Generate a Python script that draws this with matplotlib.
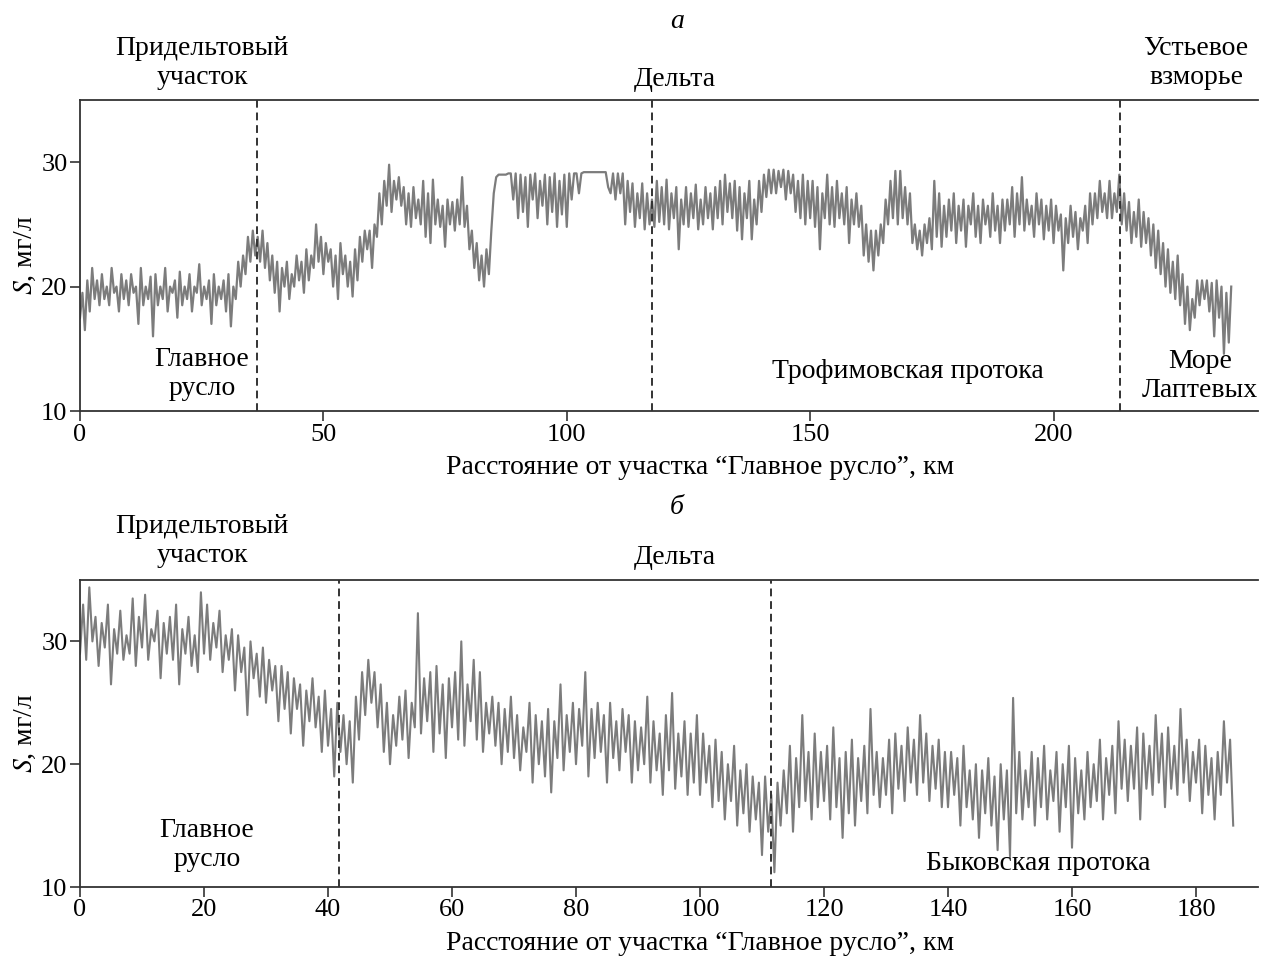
import numpy as np
import matplotlib
matplotlib.use("Agg")
import matplotlib.pyplot as plt

plt.rcParams["font.family"] = ["Liberation Serif", "DejaVu Serif"]
plt.rcParams["mathtext.fontset"] = "stix"

# S, mg/l every 0.5 km (a: Trofimovskaya branch)
step = 0.5
s_trof = [
    17.5, 19.5, 16.5, 20.5, 18, 21.5, 19, 20.5, 18.5, 21, 19, 20, 18.5, 21.5, 19.5, 20, 18, 21, 19, 20.5,
    18.5, 21, 19.5, 20, 17, 21.5, 18.5, 20, 19, 20.8, 16, 21, 18.5, 20, 19, 21.5, 18, 20, 19.5, 20.5,
    17.5, 21.2, 18.5, 20, 19, 21, 18, 20, 19.5, 21.8, 18.5, 20, 19, 20.5, 17, 21, 18.5, 20, 19, 20.5,
    18, 21, 16.8, 20, 19, 22, 20, 22.5, 21, 24, 22, 24.5, 22.5, 24, 22, 24.5, 21.5, 23.5, 20.5, 22.5,
    19.5, 22, 18, 21.5, 20, 22, 19, 21, 20, 22.5, 20.5, 22, 19.5, 23, 20.5, 22.5, 21.5, 25, 22, 24,
    21, 23.5, 22, 23, 20, 22.5, 19, 23.5, 21, 22.5, 20, 22, 19.2, 23, 20.5, 24, 22, 24.5, 23, 24.5,
    21.5, 25, 24, 27.5, 25, 28.5, 26.5, 29.8, 26, 28.5, 27, 28.8, 26.5, 28, 25, 27.5, 24.8, 28, 25.5, 27,
    25, 28.5, 24, 27.5, 23.5, 28.6, 25, 27, 24.8, 26.5, 23.2, 27, 25, 26.8, 24.5, 27, 25, 28.8, 24.8, 26.5,
    23, 24.5, 21.5, 23.5, 20.5, 22.5, 20, 23, 21, 24.5, 27.5, 28.8, 29, 29, 29, 29, 29.1, 29.1, 27, 29.1,
    25.5, 29, 26, 28.8, 24.8, 29, 27, 29.1, 25.5, 28.5, 26.5, 29, 25, 28.8, 26, 29.1, 24.8, 28.5, 25.8, 29,
    24.8, 29.1, 27, 29.1, 29.1, 27.5, 29.1, 29.2, 29.2, 29.2, 29.2, 29.2, 29.2, 29.2, 29.2, 29.2, 29.2, 28, 27.5, 29.1,
    27, 29.1, 27.5, 29.1, 25, 28.5, 26, 28.3, 24.8, 27.5, 25.5, 28.3, 24.6, 27.5, 25, 27, 24.8, 28.5, 25.2, 28,
    25, 28.6, 24.6, 27.5, 25.5, 28, 23, 27, 25, 28, 24.8, 27.5, 25.5, 28.2, 24.6, 27, 25, 28, 25.5, 27.5,
    24.6, 28, 25.5, 28.5, 25, 29, 26, 28.3, 25.5, 28.5, 24.5, 28, 23.8, 27.5, 25.5, 28.5, 23.8, 27, 25, 28.5,
    26, 29, 27.2, 29.4, 27.5, 29.4, 27.5, 29.3, 28, 29.4, 27, 29.3, 27.5, 29, 26, 28.5, 25.5, 29, 25, 28.5,
    25.5, 28.5, 24.8, 28, 23, 27.5, 25.5, 29, 25, 28, 24.8, 28.5, 25.5, 27.5, 25, 28, 23.5, 27, 25, 27.5,
    24.8, 26.5, 22.5, 25, 22, 24.5, 21.3, 24.5, 22.5, 25, 23.5, 27, 25, 28.5, 25.5, 29.3, 25, 29.3, 25.5, 28,
    25, 27.5, 23.5, 25, 23, 24.5, 22.5, 25, 23.5, 25.5, 23, 28.5, 24, 27.5, 23.2, 26.5, 24, 27, 24.5, 27.5,
    23.5, 26.5, 24.5, 27, 23.2, 26.5, 25, 27.5, 24, 26.5, 23.5, 27, 25, 26.5, 24, 27.5, 24.5, 26.5, 23.5, 27,
    24.5, 27, 25, 28, 24, 27.5, 25, 28.8, 24.5, 27, 25, 26.5, 24, 27.5, 25, 27, 23.8, 26.5, 24.5, 27,
    23.5, 26.5, 24.5, 25.8, 21.3, 25.5, 23.5, 26.5, 24, 26, 23, 25.5, 24.5, 26.5, 23.5, 27.5, 25, 27.5, 25.5, 28.5,
    26, 27.5, 25.5, 28.5, 25.5, 27.5, 26, 29, 25, 27.5, 24.5, 26.8, 23.5, 26, 24, 27, 23.2, 26, 23.5, 25.5,
    22.5, 25, 21.5, 24.5, 21, 23.5, 20, 23, 19.5, 22, 19, 22.5, 18.5, 21, 17, 20, 16.5, 19, 17.5, 20.5,
    18.5, 20.5, 19, 20.5, 18, 20.3, 16, 20.5, 17.5, 20, 14.6, 19.5, 15.5, 20,
]

# S, mg/l every 0.5 km (b: Bykovskaya branch)
s_byk = [
    29, 33, 28.5, 34.4, 30, 32, 28, 31.5, 29.5, 33, 26.5, 31, 29, 32.5, 28.5, 30.5, 29, 33.5, 28, 32,
    29.5, 33.8, 28.5, 31, 30, 32.5, 27, 31.5, 29, 32, 28.5, 33, 26.5, 31, 29, 32, 28, 30.5, 27.5, 34,
    29, 33, 28.5, 31.5, 29.5, 32.5, 27.5, 30.5, 28.5, 31, 26, 30.5, 27.5, 29.5, 24, 30, 27, 29, 25.5, 29.5,
    25, 28.5, 26, 28, 23.5, 28, 24.5, 27.5, 22.5, 27, 24.5, 26.5, 21.5, 26, 23.5, 27, 23, 25.5, 21, 26,
    21.5, 24.5, 19, 25, 21, 24, 20, 23.5, 18.5, 25.5, 22, 27.5, 24, 28.5, 25, 27.5, 23, 26.5, 21, 25,
    20, 24, 21.5, 25.5, 22, 26, 20.5, 25, 23, 32.3, 22.5, 27, 23.5, 27.5, 21, 28, 22.5, 26.5, 20.5, 27,
    23, 27.5, 22, 30, 21.5, 26.5, 23.5, 28.5, 22, 27.5, 21, 25, 22.5, 25.5, 21.5, 25, 20, 24.5, 21, 25.5,
    20.5, 24, 19.5, 23, 21, 25, 18.5, 24, 20, 23.5, 19, 24.5, 17.7, 23.5, 20.5, 26.5, 19.5, 24, 21, 25,
    20, 24.5, 21.5, 27.5, 19, 24.5, 20.5, 25, 21, 24, 18.5, 25, 20.5, 23.5, 19.5, 24.5, 21, 24, 18.5, 23.5,
    19.5, 23, 20, 25.5, 18.5, 23.5, 19.5, 22.5, 17.5, 24, 19.5, 25.8, 18, 22.5, 19, 23.5, 17.5, 22.5, 18.5, 24,
    17.5, 22.5, 18.5, 21.5, 16.5, 22, 17, 21, 15.5, 20, 17, 21.5, 15, 19.5, 16, 20, 14.5, 19, 15.5, 18.5,
    12.6, 19, 14.5, 17.5, 11.2, 18.5, 15, 19.5, 16, 21.5, 14.5, 20.5, 16.5, 24, 17, 21, 15.5, 22.5, 16.5, 21,
    17, 21.5, 15.5, 23, 16.5, 20.5, 14, 21, 16, 22, 15, 20.5, 17, 21.5, 16, 24.5, 17.5, 21, 16.5, 20.5,
    17.5, 22, 16, 22.5, 18, 21.5, 17, 23, 18.5, 22, 17.5, 24, 18.5, 22.5, 17, 21.5, 18, 22, 16.5, 21,
    16.5, 21, 17.5, 20.5, 15, 21.5, 16.5, 19.5, 15.5, 20, 14, 19.5, 16, 20.5, 15, 19, 13, 20, 15.5, 19.5,
    12.5, 25.4, 16, 21, 15.5, 19.5, 16.5, 21, 15, 20.5, 16.5, 21.5, 15.5, 19.5, 17, 21, 14.5, 20, 16.5, 21.5,
    13.2, 20.5, 16, 19.5, 15.5, 21, 16.5, 20, 17, 22, 15.5, 20.5, 17.5, 21.5, 16, 23.5, 18, 22, 17, 21.5,
    18, 23, 15.5, 22.5, 18, 21.5, 17.5, 24, 18.5, 22.5, 16.5, 23, 18, 21.5, 17.5, 24.5, 18.5, 22, 17, 21,
    18.5, 22, 16, 21.5, 17.5, 20.5, 15.5, 21, 17.5, 23.5, 18.5, 22, 15,
]

bounds_trof = [36.4, 117.5, 213.7]
bounds_byk = [41.8, 111.4]
xticks_trof = [0, 50, 100, 150, 200]
xticks_byk = [0, 20, 40, 60, 80, 100, 120, 140, 160, 180]
yticks = [10, 20, 30]

W, H = 1270, 956
FS = 20
fig = plt.figure(figsize=(W / 100, H / 100), dpi=100)


def fx(px):
    return px / W


def fy(py):
    return 1 - py / H


def panel(rect, s, bounds, xticks, xmax, lw):
    ax = fig.add_axes(rect)
    d = np.arange(len(s)) * step
    ax.plot(d, s, color="#7c7c7c", lw=lw)
    for b in bounds:
        ax.axvline(b, color="#333333", ls=(0, (4, 2.5)), lw=1.4)
    ax.set_xlim(0, xmax)
    ax.set_ylim(10, 35)
    ax.set_xticks(xticks)
    ax.set_yticks(yticks)
    ax.spines["right"].set_visible(False)
    for sp in ("top", "bottom", "left"):
        ax.spines[sp].set_linewidth(1.3)
        ax.spines[sp].set_color("#333333")
    ax.tick_params(direction="out", length=7, width=1.2, labelsize=19, color="#333333", pad=2)
    ax.set_xlabel("Расстояние от участка “Главное русло”, км", fontsize=FS)
    ax.set_ylabel("$S$, мг/л", fontsize=FS)
    ax.xaxis.set_label_coords(0.526, -0.142)
    ax.yaxis.set_label_coords(-0.036, 0.5)
    return ax


ax1 = panel([fx(80), fy(411), fx(1258) - fx(80), fy(100) - fy(411)],
            s_trof, bounds_trof, xticks_trof, 242, 1.6)
ax2 = panel([fx(80), fy(887), fx(1258) - fx(80), fy(580) - fy(887)],
            s_byk, bounds_byk, xticks_byk, 190, 1.5)

kw = dict(ha="center", va="center", fontsize=FS, linespacing=1.2)
fig.text(fx(677), fy(22), "а", style="italic", **kw)
fig.text(fx(202), fy(63), "Придельтовый\nучасток", **kw)
fig.text(fx(675), fy(80), "Дельта", **kw)
fig.text(fx(1196), fy(63), "Устьевое\nвзморье", **kw)
fig.text(fx(202), fy(374), "Главное\nрусло", **kw)
fig.text(fx(908), fy(371), "Трофимовская протока", **kw)
fig.text(fx(1200), fy(376), "Море\nЛаптевых", **kw)

fig.text(fx(677), fy(508), "б", style="italic", **kw)
fig.text(fx(202), fy(541), "Придельтовый\nучасток", **kw)
fig.text(fx(675), fy(558), "Дельта", **kw)
fig.text(fx(207), fy(845), "Главное\nрусло", **kw)
fig.text(fx(1038), fy(863), "Быковская протока", **kw)

fig.savefig("out.png", dpi=100)
